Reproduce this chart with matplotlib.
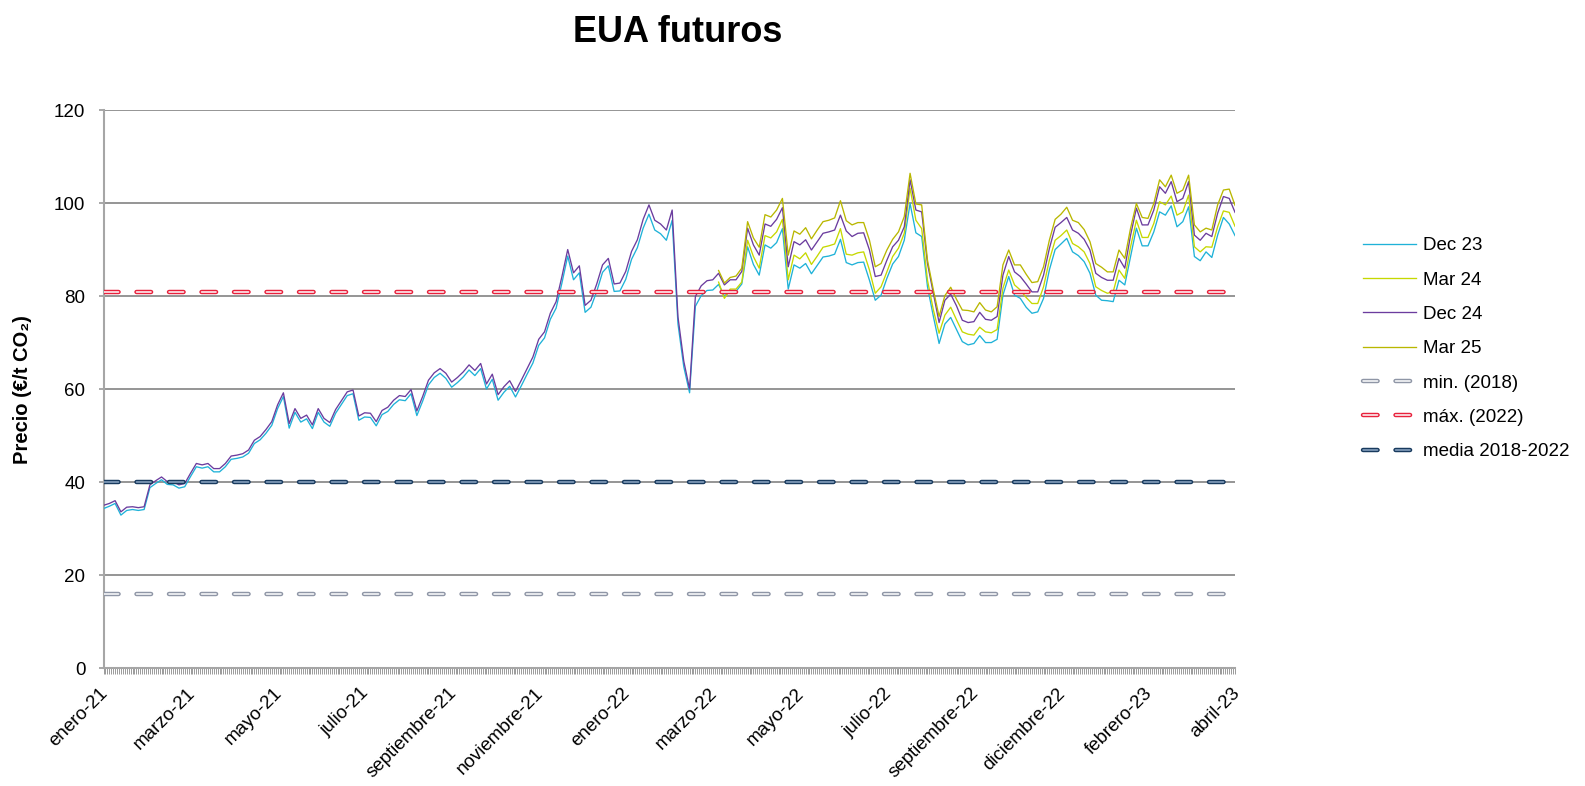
import numpy as np
import matplotlib.pyplot as plt
from matplotlib.ticker import FixedLocator, MultipleLocator
from matplotlib.transforms import ScaledTranslation

plt.rcParams['font.family'] = ['Liberation Sans', 'DejaVu Sans']
plt.rcParams['lines.scale_dashes'] = False

# Precios diarios (cada 3 sesiones), enero-21 a abril-23, EUR/t
dec24 = [35.0, 35.4, 36.0, 33.6, 34.6, 34.7, 34.5, 34.7, 39.4, 40.3,
         41.1, 40.1, 40.1, 39.4, 39.7, 41.9, 44.0, 43.7, 44.0, 42.9,
         42.9, 44.0, 45.6, 45.8, 46.1, 46.9, 49.0, 49.8, 51.3, 53.0,
         56.6, 59.2, 52.6, 55.8, 53.7, 54.4, 52.3, 55.8, 53.7, 52.8,
         55.6, 57.5, 59.4, 59.8, 54.2, 54.9, 54.8, 53.0, 55.4, 56.1,
         57.6, 58.6, 58.4, 59.9, 55.3, 58.4, 61.9, 63.5, 64.4, 63.4,
         61.5, 62.5, 63.7, 65.2, 64.0, 65.5, 61.1, 63.2, 58.8, 60.5,
         61.8, 59.5, 61.9, 64.4, 66.9, 70.7, 72.3, 76.3, 78.8, 84.2,
         90.0, 85.0, 86.5, 78.0, 79.1, 82.6, 86.7, 88.1, 82.6, 82.8,
         85.3, 89.6, 92.1, 96.5, 99.6, 96.3, 95.5, 94.2, 98.5, 75.5,
         66.0, 60.0, 79.9, 82.2, 83.3, 83.5, 84.9, 82.4, 83.5, 83.5,
         85.3, 94.6, 91.0, 88.8, 95.5, 95.0, 96.5, 99.0, 86.3, 91.7,
         91.0, 92.1, 89.9, 91.7, 93.5, 93.8, 94.2, 97.4, 94.0, 92.8,
         93.5, 93.6, 89.9, 84.2, 84.5, 87.7, 90.6, 92.0, 94.9, 105.0,
         98.5, 98.1, 87.0, 80.6, 74.3, 79.1, 80.4, 77.9, 74.8, 74.3,
         74.5, 76.5, 75.0, 74.8, 75.6, 84.5, 88.5, 85.2, 84.2, 82.6,
         80.9, 80.9, 84.5, 90.2, 94.8, 95.8, 96.9, 94.2, 93.5, 92.2,
         89.9, 84.9, 84.0, 83.4, 83.4, 88.1, 86.0, 93.1, 98.9, 95.3,
         95.3, 98.5, 103.5, 102.1, 104.6, 100.3, 101.0, 104.6, 93.1, 92.0,
         93.5, 92.8, 97.8, 101.4, 101.0, 98.0]

dec23 = [34.3, 34.8, 35.4, 32.9, 33.9, 34.1, 33.9, 34.1, 38.8, 39.7,
         40.5, 39.5, 39.4, 38.7, 39.0, 41.2, 43.3, 43.0, 43.3, 42.2,
         42.2, 43.3, 44.9, 45.1, 45.4, 46.2, 48.3, 49.1, 50.5, 52.2,
         55.8, 58.4, 51.6, 55.0, 52.9, 53.6, 51.5, 55.0, 52.9, 52.0,
         54.8, 56.7, 58.6, 59.0, 53.3, 54.0, 53.9, 52.1, 54.5, 55.2,
         56.7, 57.7, 57.5, 59.0, 54.3, 57.4, 60.9, 62.5, 63.4, 62.3,
         60.4, 61.4, 62.6, 64.1, 62.9, 64.4, 60.0, 62.1, 57.6, 59.3,
         60.6, 58.3, 60.7, 63.2, 65.6, 69.4, 71.0, 75.0, 77.4, 82.8,
         88.6, 83.5, 85.0, 76.5, 77.6, 81.0, 85.1, 86.5, 81.0, 81.1,
         83.6, 87.9, 90.4, 94.6, 97.6, 94.2, 93.4, 92.0, 96.3, 74.0,
         64.8, 59.2, 77.8, 80.1, 81.2, 81.3, 82.5, 80.0, 81.0, 81.0,
         82.6, 90.6, 86.8, 84.5, 91.0, 90.3, 91.5, 94.5, 81.5, 86.7,
         86.0, 87.0, 84.8, 86.6, 88.4, 88.6, 89.0, 92.2, 87.2, 86.7,
         87.2, 87.3, 83.4, 79.1, 80.2, 83.8, 86.9, 88.5, 92.0, 99.9,
         93.6, 92.8, 82.0, 75.7, 69.8, 74.0, 75.4, 72.8, 70.2, 69.5,
         69.8, 71.5, 70.0, 70.0, 70.7, 80.2, 84.2, 80.2, 79.5, 77.6,
         76.3, 76.6, 79.5, 85.6, 90.0, 91.2, 92.4, 89.5, 88.7, 87.4,
         84.9, 80.2, 79.1, 79.0, 78.8, 83.4, 82.4, 88.5, 94.6, 90.8,
         90.8, 93.8, 98.1, 97.4, 99.4, 94.9, 96.0, 99.2, 88.5, 87.6,
         89.5, 88.3, 93.1, 96.9, 95.5, 93.0]

# Mar 24 y Mar 25 solo desde finales de marzo-22
mar24 = [83.0, 79.5, 81.5, 81.5, 83.0, 92.0, 88.5, 86.0, 93.0, 92.5,
         93.8, 96.5, 83.5, 88.8, 88.0, 89.3, 86.8, 88.6, 90.5, 90.8,
         91.2, 94.5, 89.0, 88.8, 89.3, 89.5, 85.6, 80.6, 82.0, 85.2,
         88.5, 90.3, 93.5, 103.2, 96.3, 94.5, 83.4, 77.1, 72.0, 75.9,
         77.6, 74.9, 72.3, 71.8, 71.6, 73.3, 72.3, 72.1, 72.8, 81.7,
         85.6, 82.4, 81.3, 79.7, 78.4, 78.4, 82.0, 87.7, 92.0, 93.0,
         94.2, 91.3, 90.6, 89.5, 87.0, 82.0, 81.2, 80.6, 80.9, 85.6,
         83.8, 90.6, 96.3, 92.6, 92.6, 95.6, 100.3, 99.6, 101.5, 97.4,
         98.1, 101.7, 90.6, 89.5, 90.6, 90.5, 94.9, 98.3, 98.0, 95.0]

mar25 = [85.5, 82.8, 84.0, 84.3, 86.0, 96.0, 92.5, 90.5, 97.5, 97.0,
         98.5, 101.0, 88.8, 94.0, 93.3, 94.7, 92.3, 94.2, 96.0, 96.3,
         96.8, 100.5, 96.2, 95.3, 95.8, 95.8, 92.0, 86.3, 87.0, 89.9,
         92.2, 93.8, 97.1, 106.4, 99.8, 99.6, 87.7, 81.4, 75.6, 80.1,
         81.9, 79.3, 77.0, 76.9, 76.6, 78.6, 77.0, 76.6, 77.7, 86.7,
         89.9, 86.7, 86.7, 84.7, 82.9, 83.1, 86.3, 92.0, 96.5, 97.6,
         99.1, 96.3, 95.8, 94.3, 91.7, 87.0, 86.2, 85.2, 85.2, 89.9,
         88.1, 94.6, 99.9, 96.9, 96.7, 99.9, 105.0, 103.5, 106.0, 102.1,
         102.8, 106.0, 95.3, 93.8, 94.6, 94.2, 99.6, 102.8, 103.0, 99.5]

min_2018 = 15.9
max_2022 = 80.9
media_18_22 = 40.0

month_labels = ['enero-21', 'marzo-21', 'mayo-21', 'julio-21', 'septiembre-21',
                'noviembre-21', 'enero-22', 'marzo-22', 'mayo-22', 'julio-22',
                'septiembre-22', 'diciembre-22', 'febrero-23', 'abril-23']

step = 3          # sesiones entre valores
label_every = 45  # sesiones entre etiquetas
x = np.arange(len(dec24)) * step
x_mar = x[-len(mar24):]
n_sessions = x[-1]

fig = plt.figure(figsize=(15.85, 7.86), dpi=100)
ax = fig.add_axes([0.0653, 0.150, 0.7139, 0.710])

l1, = ax.plot(x, dec23, color='#1fb2d8', lw=0.95, label='Dec 23', zorder=3)
l2, = ax.plot(x_mar, mar24, color='#c6d800', lw=0.95, label='Mar 24', zorder=3)
l3, = ax.plot(x, dec24, color='#6b3c9e', lw=0.95, label='Dec 24', zorder=3)
l4, = ax.plot(x_mar, mar25, color='#b9b700', lw=0.95, label='Mar 25', zorder=3)

# Lineas de referencia (guiones con borde)
def ref_line(y, edge, fill):
    dash = (10.5, 12.9)
    o = ax.axhline(y, color=edge, lw=3.2, dashes=dash, dash_capstyle='round', zorder=5)
    i = ax.axhline(y, color=fill, lw=1.1, dashes=dash, dash_capstyle='round', zorder=6)
    return (o, i)

h_min = ref_line(min_2018, '#8f96a6', 'white')
h_max = ref_line(max_2022, '#e8213c', 'white')
h_med = ref_line(media_18_22, '#183a5e', '#8ea8c6')

ax.set_xlim(0, n_sessions)
ax.set_ylim(0, 120)
ax.set_yticks(range(0, 121, 20))
ax.xaxis.set_major_locator(FixedLocator(np.arange(len(month_labels)) * label_every))
ax.xaxis.set_minor_locator(MultipleLocator(1))
ax.set_xticklabels(month_labels, rotation=45, ha='right', rotation_mode='anchor')

ax.tick_params(axis='x', which='both', direction='out', length=4, width=0.7,
               color='#9a9a9a', labelsize=13.5, pad=8)
ax.tick_params(axis='y', direction='out', length=3.6, width=1.2,
               color='#9a9a9a', labelsize=13.5, pad=9.5)
shift = ScaledTranslation(-4 / 100, 0, fig.dpi_scale_trans)
for lbl in ax.get_xticklabels():
    lbl.set_transform(lbl.get_transform() + shift)

ax.yaxis.grid(True, color='#8c8c8c', lw=1.3)
ax.set_axisbelow(True)
for s in ['top', 'right']:
    ax.spines[s].set_visible(False)
for s in ['left', 'bottom']:
    ax.spines[s].set_color('#a6a6a6')
    ax.spines[s].set_linewidth(1.5)

fig.text(678 / 1585, 1 - 32 / 786, 'EUA futuros', fontsize=26, fontweight='bold',
         ha='center', va='center')
fig.text(23 / 1585, 1 - 390 / 786, 'Precio (€/t CO₂)', rotation=90, fontsize=14.5,
         fontweight='bold', ha='center', va='center')

fig.legend([l1, l2, l3, l4, h_min, h_max, h_med],
           ['Dec 23', 'Mar 24', 'Dec 24', 'Mar 25', 'min. (2018)', 'máx. (2022)',
            'media 2018-2022'],
           loc='upper left', bbox_to_anchor=(0.860, 0.698), frameon=False,
           fontsize=13.5, handlelength=2.8, handletextpad=0.4, labelspacing=0.915,
           borderpad=0, borderaxespad=0)

fig.savefig('out.png', dpi=100)
